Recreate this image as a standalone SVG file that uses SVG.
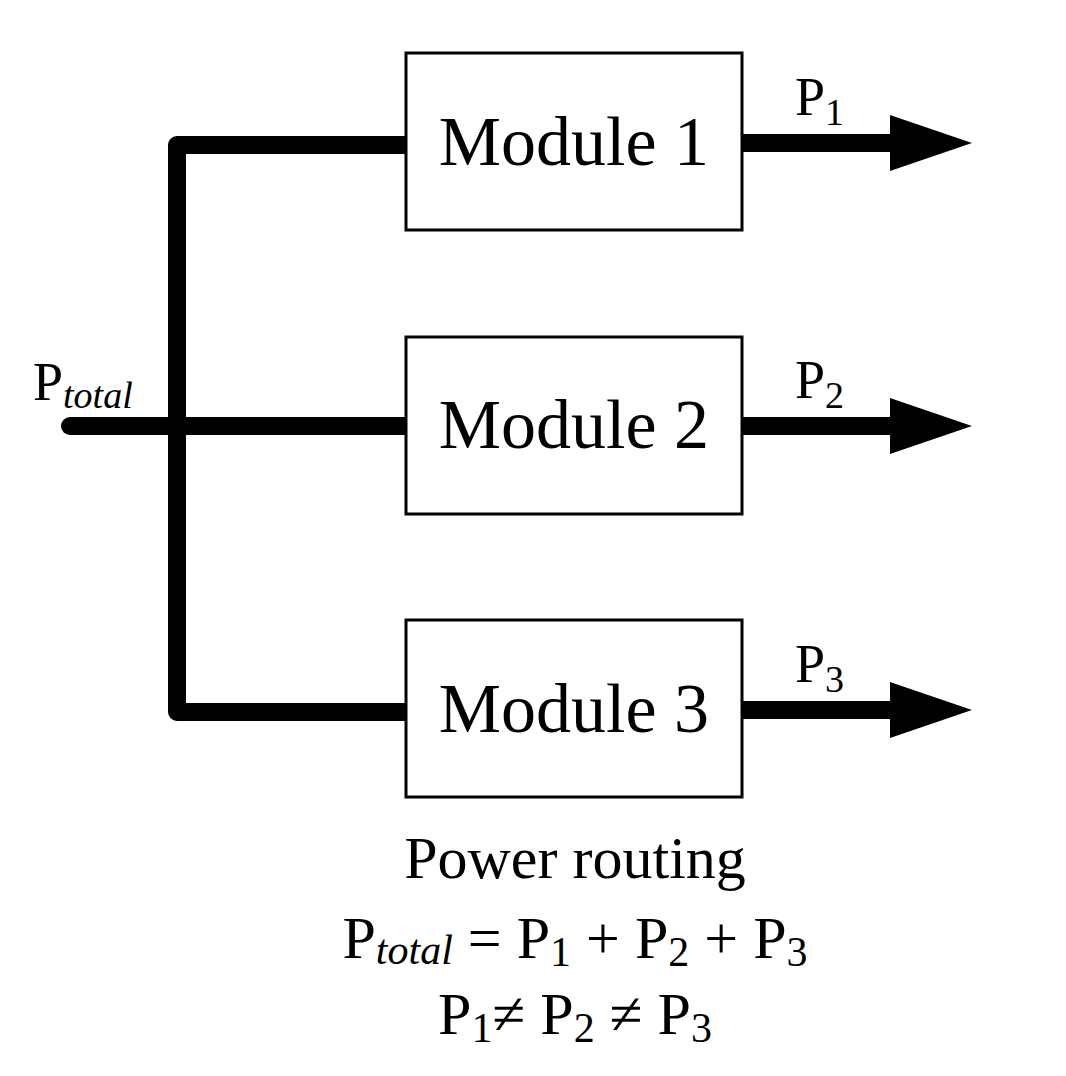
<svg xmlns="http://www.w3.org/2000/svg" width="1066" height="1076" viewBox="0 0 1066 1076">
<style>
.box{fill:#fff;stroke:#000;stroke-width:3}
.ln{stroke:#000;stroke-width:18;fill:none}
.t{font-family:"Liberation Serif",serif;fill:#000}
.m{font-size:70px;text-anchor:middle}
.p{font-size:54px}
.s{font-size:38px}
.b{font-size:60px}
.bs{font-size:42px}
</style>
<rect width="1066" height="1076" fill="#fff"/>
<g id="connectors">
<path class="ln" d="M406 145H177V712H406" stroke-linejoin="round" stroke-linecap="round"/>
<path class="ln" d="M70 426H406" stroke-linecap="round"/>
<path class="ln" d="M742 143H895M742 426H895M742 710H895"/>
<polygon points="890,115 972,143 890,171"/>
<polygon points="890,398 972,426 890,454"/>
<polygon points="890,682 972,710 890,738"/>
</g>
<g id="m1"><rect class="box" x="406" y="53" width="336" height="177"/><text class="t m" x="574" y="165">Module 1</text></g>
<g id="m2"><rect class="box" x="406" y="337" width="336" height="177"/><text class="t m" x="574" y="448">Module 2</text></g>
<g id="m3"><rect class="box" x="406" y="620" width="336" height="177"/><text class="t m" x="574" y="732">Module 3</text></g>
<g id="labels" class="t">
<text class="p" x="795" y="115">P<tspan class="s" dy="10">1</tspan></text>
<text class="p" x="795" y="398">P<tspan class="s" dy="10">2</tspan></text>
<text class="p" x="795" y="682">P<tspan class="s" dy="10">3</tspan></text>
<text class="p" x="33" y="400">P<tspan class="s" dy="8" font-style="italic">total</tspan></text>
<text class="b" x="575" y="878" text-anchor="middle">Power routing</text>
<text class="b" x="575" y="958" text-anchor="middle">P<tspan class="bs" dy="6" font-style="italic">total</tspan><tspan dy="-6"> = P</tspan><tspan class="bs" dy="8">1</tspan><tspan dy="-8"> + P</tspan><tspan class="bs" dy="8">2</tspan><tspan dy="-8"> + P</tspan><tspan class="bs" dy="8">3</tspan></text>
<text class="b" x="575" y="1034" text-anchor="middle">P<tspan class="bs" dy="8">1</tspan><tspan dy="-8">≠ P</tspan><tspan class="bs" dy="8">2</tspan><tspan dy="-8"> ≠ P</tspan><tspan class="bs" dy="8">3</tspan></text>
</g>
</svg>
